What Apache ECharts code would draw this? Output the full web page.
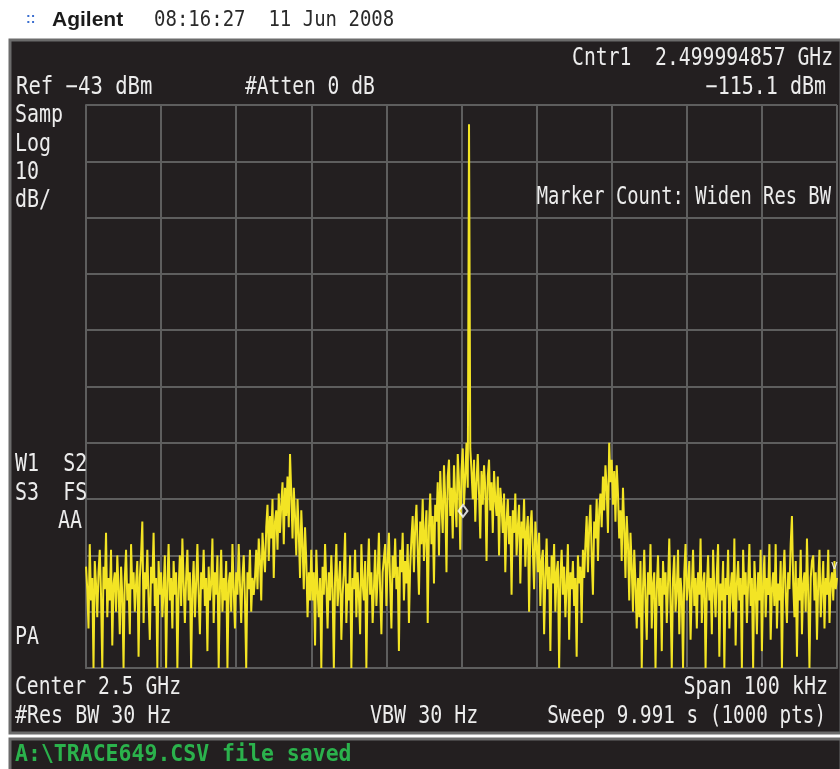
<!DOCTYPE html>
<html>
<head>
<meta charset="utf-8">
<title>Spectrum trace</title>
<script src="https://cdn.jsdelivr.net/npm/echarts@6/dist/echarts.min.js"></script>
<style>
  html, body { margin: 0; padding: 0; background: #ffffff; }
  #chart { width: 840px; height: 769px; }
</style>
</head>
<body>
<div id="chart"></div>
<script>
// Instrument settings
const REF_LEVEL = -43;      // dBm, top of screen
const DB_PER_DIV = 10;
const DIVISIONS = 10;
const SPAN_KHZ = 100;       // centred on 2.5 GHz

// Trace samples in dBm, evenly spaced across the span (left to right)
const floorLeft = [
  -125,-129,-136,-121,-131,-127,-143,-124,-128,-134,
  -126,-122,-130,-143,-125,-129,-119,-134,-127,-131,
  -122,-139,-128,-126,-133,-123,-129,-137,-125,-130,
  -143,-127,-122,-131,-128,-137,-121,-129,-126,-133,
  -128,-124,-141,-127,-123,-117,-135,-126,-129,-122,
  -131,-138,-125,-128,-119,-132,-127,-143,-124,-130,
  -126,-134,-129,-123,-143,-128,-121,-131,-127,-136,
  -124,-130,-126,-143,-129,-123,-132,-120,-128,-135,
  -127,-122,-131,-126,-143,-129,-124,-134,-128,-121,
  -130,-137,-126,-129,-122,-132,-127,-140,-125,-131,
  -128,-120,-135,-126,-130,-123,-143,-129,-122,-133,
  -127,-131,-124,-143,-128,-126,-133,-121,-129,-136,
  -126,-130,-121,-128,-135,-127,-123,-131,-143,-126,
  -129,-122,-133,-127,-130
];
const lobeLeft = [
  -127,-122,-129,-120,-124,-131,-119,-123,-126,
  -118,-114,-124,-116,-120,-113,-127,-117,-115,-122,-112,-119,
  -114,-110,-121,-111,-116,-109,-118,-105,-112,-120,-111,
  -116,-123,-113,-119,-127,-115,-121,-129,-118,
  -124,-134,-126,-131,-122
];
const floorMid = [
  -131,-126,-139,-122,-129,-134,-127,-143,-125,-130,
  -121,-128,-136,-126,-131,-123,-129,-143,-127,-121,
  -132,-128,-124,-138,-130,-126,-119,-135,-128,-131,
  -123,-143,-127,-129,-122,-134,-126,-130,-137,-121,
  -128,-131,-124,-143,-127,-120,-130,-126,-135,-129,
  -122,-132,-127,-119,-129,-137,-126
];
const humpRise = [
  -126,-121,-132,-124,-119,-128,-136,-123,-127,-120,-129,
  -125,-140,-122,-126,-119,-131,-124,-128,-121,-135,-125,
  -120,-116,-126,-118,-114,-122,-130,-117,-121,-113,
  -124,-119,-115,-135,-118,-112,-121,-116,-128,-114,
  -117,-110,-123,-108,-114,-119,-107,-113,-126,-109,-106,-116,-111,
  -120,-107,-113,-118,-105,-110,-122,-108,-104,-114,-109,-103,-111
];
const carrier = [-46.4];
const humpFall = [
  -104,-108,-113,-106,-117,-110,-105,-112,-120,-108,
  -114,-107,-111,-124,-109,-106,-115,-110,-119,-108,
  -113,-116,-109,-123,-111,
  -114,-119,-112,-126,-117,-113,-121,-116,-130,-115,
  -119,-112,-123,-118,-114,-128,-117,-120,-113,-125,
  -119,-116,-133,-118,-115,-122,-129,-117,
  -121,-126,-119,-132,-124,-122,-137,-127,-120,-129,
  -125,-140,-123,-128,-121,-133,-126,-124,-143,-127,
  -122,-130,-125,-134,-128,-121,-138,-126,-129,-124,
  -132,-127,-141,-123,-128,-125,-135,-122,-127
];
const lobeRight = [
  -121,-116,-126,-118,-114,-123,-130,-117,-120,-113,-124,-115,
  -112,-118,-109,-115,-107,-111,-119,-103,-110,-106,-114,-108,-117,-107,
  -112,-120,-115,-124,-111,-118,-127,-116,-121,-131,-119,-125,-133,-122,-128,-136
];
const floorRight = [
  -127,-134,-124,-143,-129,-122,-131,-138,-126,-130,
  -121,-136,-128,-126,-143,-129,-123,-132,-127,-140,
  -124,-130,-126,-135,-128,-120,-131,-143,-127,-123,
  -133,-129,-122,-137,-127,-130,-143,-126,-121,-131,
  -128,-124,-138,-129,-122,-132,-127,-136,-126,-130,
  -120,-135,-128,-126,-143,-129,-123,-131,-127,-137,
  -122,-129,-134,-126,-121,-141,-128,-131,-124,-143,
  -127,-130,-122,-136,-129,-126,-133,-120,-139,-128,
  -124,-131,-127,-143,-122,-130,-126,-135,-128,-121,
  -132,-127,-143,-124,-129,-137,-126,-131,-122,-140,
  -128,-123,-134,-127,-130,-121,-138,-129,-126,-132,
  -121,-136,-128,-131,-124,-143,-127,-122,-130,-135,
  -126,-129,-121,-116,-128,-134,-124,-141,-127,-131,
  -122,-137,-128,-126,-133,-120,-130,-143,-127,-124,
  -123,-131,-126,-138,-128,-122,-134,-129,-124,-136,
  -127,-130,-122,-135,-128,-126,-131,-124,-129,-127
];

// Marker 1 reading
const markerOffsetKHz = 0.2;
const markerLevel = -115.1;

const trace = [].concat(floorLeft, lobeLeft, floorMid, humpRise, carrier, humpFall, lobeRight, floorRight);
const n = trace.length;
const points = trace.map((v, i) => [-SPAN_KHZ / 2 + SPAN_KHZ * i / (n - 1), v]);

const BOTTOM = REF_LEVEL - DB_PER_DIV * DIVISIONS;

const PANEL = '#231f20';
const GRIDC = '#5e5e5e';
const TEXT = '#ececec';
const MONO = '"DejaVu Sans Mono", "Liberation Mono", monospace';

// screen annotation in the analyser's tall monospace style
function label(text, x, y, align, opts) {
  opts = opts || {};
  return {
    type: 'text', z: 50,
    x: x, y: y,
    scaleX: opts.sx || 1,
    scaleY: opts.sy || 1.2,
    style: {
      text: text, x: 0, y: 0,
      font: (opts.font || '20px ') + MONO,
      fill: opts.fill || TEXT,
      textAlign: align || 'left',
      textVerticalAlign: 'middle'
    }
  };
}

const chart = echarts.init(document.getElementById('chart'), null, { renderer: 'canvas' });

chart.setOption({
  animation: false,
  backgroundColor: '#ffffff',
  grid: { left: 86, right: 3, top: 105, bottom: 101, containLabel: false },
  xAxis: [
    { type: 'value', min: -SPAN_KHZ / 2, max: SPAN_KHZ / 2, show: false },
    { type: 'value', min: 0, max: DIVISIONS, interval: 1, position: 'bottom',
      axisLine: { show: true, lineStyle: { color: GRIDC, width: 2 } },
      axisTick: { show: false }, axisLabel: { show: false },
      splitLine: { show: true, lineStyle: { color: GRIDC, width: 2 } } }
  ],
  yAxis: [
    { type: 'value', min: BOTTOM, max: REF_LEVEL, show: false },
    { type: 'value', min: 0, max: DIVISIONS, interval: 1, position: 'left',
      axisLine: { show: true, lineStyle: { color: GRIDC, width: 2 } },
      axisTick: { show: false }, axisLabel: { show: false },
      splitLine: { show: true, lineStyle: { color: GRIDC, width: 2 } } }
  ],
  series: [
    {
      type: 'line',
      xAxisIndex: 0, yAxisIndex: 0,
      data: points,
      showSymbol: false,
      lineStyle: { color: '#f3e424', width: 2 },
      z: 5
    },
    {
      type: 'scatter',
      xAxisIndex: 0, yAxisIndex: 0,
      data: [[markerOffsetKHz, markerLevel]],
      symbol: 'diamond',
      symbolSize: [9, 12],
      itemStyle: { color: 'rgba(0,0,0,0)', borderColor: '#ffffff', borderWidth: 2 },
      z: 6
    }
  ],
  graphic: [
    // instrument screen panels
    { type: 'rect', z: -10, shape: { x: 10, y: 40, width: 831, height: 693 },
      style: { fill: PANEL, stroke: '#6b6b6b', lineWidth: 3 } },
    { type: 'rect', z: -10, shape: { x: 10, y: 739, width: 831, height: 32 },
      style: { fill: PANEL, stroke: '#6b6b6b', lineWidth: 3 } },

    // title bar
    { type: 'text', z: 50, style: { text: '::', x: 26, y: 19, font: 'bold 14px "Liberation Sans"', fill: '#3b6fd0', textVerticalAlign: 'middle' } },
    { type: 'text', z: 50, style: { text: 'Agilent', x: 52, y: 20, font: 'bold 21px "Liberation Sans", Arial', fill: '#1a1a1a', textVerticalAlign: 'middle' } },
    label('08:16:27  11 Jun 2008', 154, 20, 'left', { font: '19px ', fill: '#2a2a2a', sy: 1.15 }),

    // header annotations
    label('Cntr1  2.499994857 GHz', 833, 59, 'right', { sx: 0.985 }),
    label('Ref \u221243 dBm', 16, 88, 'left', { sx: 1.03 }),
    label('#Atten 0 dB', 245, 88, 'left', { sx: 0.98 }),
    label('\u2212115.1 dBm', 826, 88, 'right'),

    // left column
    label('Samp', 15, 116),
    label('Log', 15, 145),
    label('10', 15, 173),
    label('dB/', 15, 201),
    label('W1  S2', 15, 465),
    label('S3  FS', 15, 494),
    label('AA', 82, 522, 'right'),
    label('PA', 15, 638),

    label('Marker Count: Widen Res BW', 831, 198, 'right', { sx: 0.94 }),
    label('v', 838, 566, 'right', { font: '12px ', sy: 1 }),

    // footer annotations
    label('Center 2.5 GHz', 15, 688, 'left', { sx: 0.985 }),
    label('Span 100 kHz', 828, 688, 'right'),
    label('#Res BW 30 Hz', 15, 717),
    label('VBW 30 Hz', 370, 717),
    label('Sweep 9.991 s (1000 pts)', 826, 717, 'right', { sx: 0.965 }),

    // status line
    label('A:\\TRACE649.CSV file saved', 15, 755, 'left', { font: 'bold 21.5px ', fill: '#2bb24c', sy: 1.05 })
  ]
});
</script>
</body>
</html>
